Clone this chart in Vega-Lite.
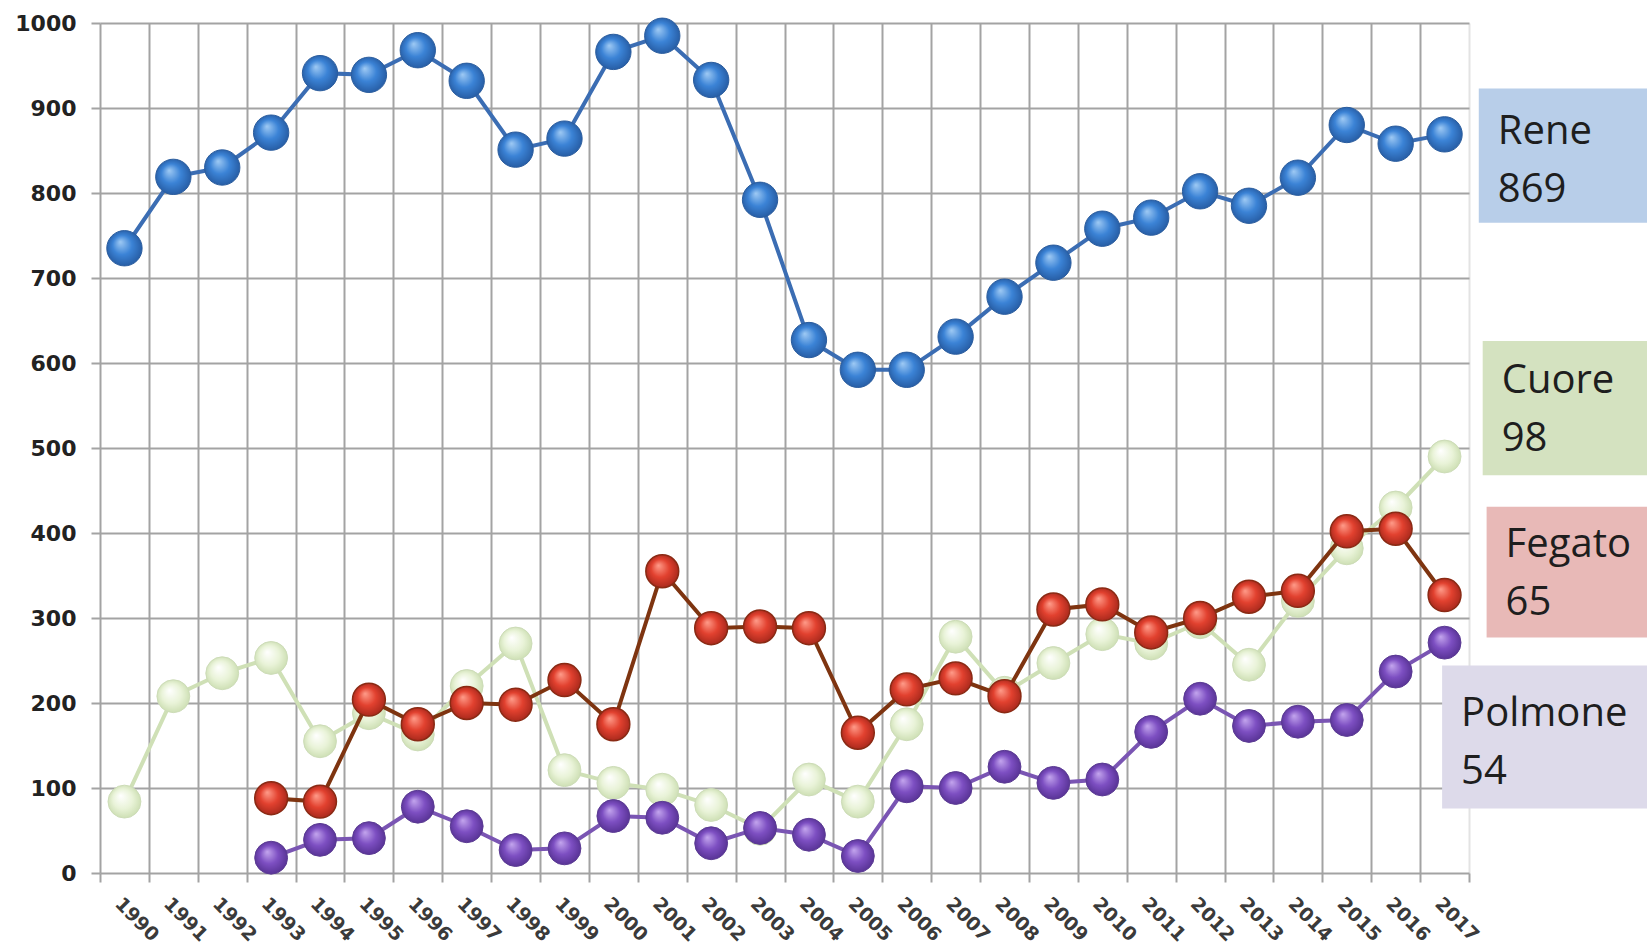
{
  "$schema": "https://vega.github.io/schema/vega-lite/v6.json",
  "width": 1369,
  "height": 850,
  "autosize": {"type": "none"},
  "padding": {"left": 100, "top": 23, "right": 178, "bottom": 71},
  "background": "white",
  "config": {"view": {"stroke": null}},
  "datasets": {
    "series": [
      {"year": 1990, "organ": "Rene", "n": 735}, {"year": 1991, "organ": "Rene", "n": 819}, {"year": 1992, "organ": "Rene", "n": 830}, {"year": 1993, "organ": "Rene", "n": 871}, {"year": 1994, "organ": "Rene", "n": 941}, {"year": 1995, "organ": "Rene", "n": 939}, {"year": 1996, "organ": "Rene", "n": 968}, {"year": 1997, "organ": "Rene", "n": 932}, {"year": 1998, "organ": "Rene", "n": 851}, {"year": 1999, "organ": "Rene", "n": 864}, {"year": 2000, "organ": "Rene", "n": 966}, {"year": 2001, "organ": "Rene", "n": 985}, {"year": 2002, "organ": "Rene", "n": 933}, {"year": 2003, "organ": "Rene", "n": 792}, {"year": 2004, "organ": "Rene", "n": 627}, {"year": 2005, "organ": "Rene", "n": 592}, {"year": 2006, "organ": "Rene", "n": 592}, {"year": 2007, "organ": "Rene", "n": 631}, {"year": 2008, "organ": "Rene", "n": 678}, {"year": 2009, "organ": "Rene", "n": 718}, {"year": 2010, "organ": "Rene", "n": 758}, {"year": 2011, "organ": "Rene", "n": 771}, {"year": 2012, "organ": "Rene", "n": 802}, {"year": 2013, "organ": "Rene", "n": 785}, {"year": 2014, "organ": "Rene", "n": 818}, {"year": 2015, "organ": "Rene", "n": 880}, {"year": 2016, "organ": "Rene", "n": 858}, {"year": 2017, "organ": "Rene", "n": 869},
      {"year": 1990, "organ": "Cuore", "n": 84}, {"year": 1991, "organ": "Cuore", "n": 208}, {"year": 1992, "organ": "Cuore", "n": 235}, {"year": 1993, "organ": "Cuore", "n": 253}, {"year": 1994, "organ": "Cuore", "n": 155}, {"year": 1995, "organ": "Cuore", "n": 188}, {"year": 1996, "organ": "Cuore", "n": 163}, {"year": 1997, "organ": "Cuore", "n": 220}, {"year": 1998, "organ": "Cuore", "n": 270}, {"year": 1999, "organ": "Cuore", "n": 121}, {"year": 2000, "organ": "Cuore", "n": 106}, {"year": 2001, "organ": "Cuore", "n": 98}, {"year": 2002, "organ": "Cuore", "n": 80}, {"year": 2003, "organ": "Cuore", "n": 52}, {"year": 2004, "organ": "Cuore", "n": 110}, {"year": 2005, "organ": "Cuore", "n": 84}, {"year": 2006, "organ": "Cuore", "n": 175}, {"year": 2007, "organ": "Cuore", "n": 278}, {"year": 2008, "organ": "Cuore", "n": 212}, {"year": 2009, "organ": "Cuore", "n": 247}, {"year": 2010, "organ": "Cuore", "n": 281}, {"year": 2011, "organ": "Cuore", "n": 270}, {"year": 2012, "organ": "Cuore", "n": 295}, {"year": 2013, "organ": "Cuore", "n": 245}, {"year": 2014, "organ": "Cuore", "n": 320}, {"year": 2015, "organ": "Cuore", "n": 382}, {"year": 2016, "organ": "Cuore", "n": 430}, {"year": 2017, "organ": "Cuore", "n": 490},
      {"year": 1993, "organ": "Fegato", "n": 88}, {"year": 1994, "organ": "Fegato", "n": 84}, {"year": 1995, "organ": "Fegato", "n": 204}, {"year": 1996, "organ": "Fegato", "n": 175}, {"year": 1997, "organ": "Fegato", "n": 200}, {"year": 1998, "organ": "Fegato", "n": 198}, {"year": 1999, "organ": "Fegato", "n": 227}, {"year": 2000, "organ": "Fegato", "n": 175}, {"year": 2001, "organ": "Fegato", "n": 355}, {"year": 2002, "organ": "Fegato", "n": 288}, {"year": 2003, "organ": "Fegato", "n": 290}, {"year": 2004, "organ": "Fegato", "n": 288}, {"year": 2005, "organ": "Fegato", "n": 165}, {"year": 2006, "organ": "Fegato", "n": 216}, {"year": 2007, "organ": "Fegato", "n": 229}, {"year": 2008, "organ": "Fegato", "n": 208}, {"year": 2009, "organ": "Fegato", "n": 310}, {"year": 2010, "organ": "Fegato", "n": 316}, {"year": 2011, "organ": "Fegato", "n": 283}, {"year": 2012, "organ": "Fegato", "n": 300}, {"year": 2013, "organ": "Fegato", "n": 325}, {"year": 2014, "organ": "Fegato", "n": 332}, {"year": 2015, "organ": "Fegato", "n": 402}, {"year": 2016, "organ": "Fegato", "n": 405}, {"year": 2017, "organ": "Fegato", "n": 327},
      {"year": 1993, "organ": "Polmone", "n": 18}, {"year": 1994, "organ": "Polmone", "n": 39}, {"year": 1995, "organ": "Polmone", "n": 41}, {"year": 1996, "organ": "Polmone", "n": 78}, {"year": 1997, "organ": "Polmone", "n": 55}, {"year": 1998, "organ": "Polmone", "n": 27}, {"year": 1999, "organ": "Polmone", "n": 29}, {"year": 2000, "organ": "Polmone", "n": 67}, {"year": 2001, "organ": "Polmone", "n": 65}, {"year": 2002, "organ": "Polmone", "n": 35}, {"year": 2003, "organ": "Polmone", "n": 53}, {"year": 2004, "organ": "Polmone", "n": 45}, {"year": 2005, "organ": "Polmone", "n": 20}, {"year": 2006, "organ": "Polmone", "n": 102}, {"year": 2007, "organ": "Polmone", "n": 100}, {"year": 2008, "organ": "Polmone", "n": 125}, {"year": 2009, "organ": "Polmone", "n": 106}, {"year": 2010, "organ": "Polmone", "n": 110}, {"year": 2011, "organ": "Polmone", "n": 166}, {"year": 2012, "organ": "Polmone", "n": 205}, {"year": 2013, "organ": "Polmone", "n": 173}, {"year": 2014, "organ": "Polmone", "n": 178}, {"year": 2015, "organ": "Polmone", "n": 180}, {"year": 2016, "organ": "Polmone", "n": 237}, {"year": 2017, "organ": "Polmone", "n": 271}
    ],
    "boxes": [
      {"organ": "Rene", "label": "Rene\n869", "x0": 2017.7, "x1": 2023, "y0": 765, "y1": 923, "ym": 842},
      {"organ": "Cuore", "label": "Cuore\n98", "x0": 2017.78, "x1": 2023, "y0": 468, "y1": 626, "ym": 549},
      {"organ": "Fegato", "label": "Fegato\n65", "x0": 2017.86, "x1": 2023, "y0": 277, "y1": 431, "ym": 356},
      {"organ": "Polmone", "label": "Polmone\n54", "x0": 2016.95, "x1": 2023, "y0": 76, "y1": 244, "ym": 158}
    ]
  },
  "layer": [
    {
      "data": {"name": "series"},
      "transform": [{"filter": "datum.organ === 'Cuore'"}],
      "mark": {"type": "line", "color": "#cfe0b6", "strokeWidth": 4},
      "encoding": {
        "x": {
          "field": "year", "type": "quantitative",
          "scale": {"domain": [1989.5, 2017.5], "nice": false, "zero": false},
          "axis": {
            "title": null,
            "values": [1989.5, 1990.5, 1991.5, 1992.5, 1993.5, 1994.5, 1995.5, 1996.5, 1997.5, 1998.5, 1999.5, 2000.5, 2001.5, 2002.5, 2003.5, 2004.5, 2005.5, 2006.5, 2007.5, 2008.5, 2009.5, 2010.5, 2011.5, 2012.5, 2013.5, 2014.5, 2015.5, 2016.5, 2017.5],
            "grid": true, "gridColor": "#a3a3a3", "gridWidth": 2,
            "gridOpacity": {"condition": {"test": "datum.value > 2017", "value": 0.3}, "value": 1},
            "domain": false,
            "ticks": true, "tickSize": 9, "tickColor": "#a3a3a3", "tickWidth": 2,
            "labelExpr": "datum.value > 2017 ? '' : format(datum.value + 0.5, 'd')",
            "labelAngle": 45, "labelAlign": "left", "labelBaseline": "top",
            "labelOffset": 24, "labelPadding": 12,
            "labelFont": "DejaVu Sans", "labelFontWeight": "bold", "labelFontSize": 19, "labelColor": "#3a3a3a",
            "labelOverlap": false, "labelBound": false, "labelFlush": false
          }
        },
        "y": {
          "field": "n", "type": "quantitative",
          "scale": {"domain": [0, 1000], "nice": false},
          "axis": {
            "title": null,
            "values": [0, 100, 200, 300, 400, 500, 600, 700, 800, 900, 1000],
            "format": "d",
            "grid": true, "gridColor": "#a3a3a3", "gridWidth": 2,
            "domain": false,
            "ticks": true, "tickSize": 9, "tickColor": "#a3a3a3", "tickWidth": 2,
            "labelPadding": 15,
            "labelFont": "DejaVu Sans", "labelFontWeight": "bold", "labelFontSize": 22, "labelColor": "#222222"
          }
        }
      }
    },
    {
      "data": {"name": "series"},
      "transform": [{"filter": "datum.organ === 'Cuore'"}],
      "mark": {"type": "point", "filled": true, "size": 1080, "opacity": 1, "stroke": "#cddcb8", "strokeWidth": 1,
        "fill": {"gradient": "radial", "x1": 0.38, "y1": 0.32, "r1": 0, "x2": 0.5, "y2": 0.5, "r2": 0.55,
          "stops": [{"offset": 0, "color": "#ffffff"}, {"offset": 0.55, "color": "#e9f3d8"}, {"offset": 1, "color": "#c9dcae"}]}},
      "encoding": {"x": {"field": "year", "type": "quantitative"}, "y": {"field": "n", "type": "quantitative"}}
    },
    {
      "data": {"name": "series"},
      "transform": [{"filter": "datum.organ === 'Fegato'"}],
      "mark": {"type": "line", "color": "#7e3410", "strokeWidth": 4},
      "encoding": {"x": {"field": "year", "type": "quantitative"}, "y": {"field": "n", "type": "quantitative"}}
    },
    {
      "data": {"name": "series"},
      "transform": [{"filter": "datum.organ === 'Fegato'"}],
      "mark": {"type": "point", "filled": true, "size": 1080, "opacity": 1, "stroke": "#8a2a14", "strokeWidth": 1.5,
        "fill": {"gradient": "radial", "x1": 0.38, "y1": 0.32, "r1": 0, "x2": 0.5, "y2": 0.5, "r2": 0.55,
          "stops": [{"offset": 0, "color": "#ff9c8a"}, {"offset": 0.5, "color": "#e2412f"}, {"offset": 1, "color": "#a2261a"}]}},
      "encoding": {"x": {"field": "year", "type": "quantitative"}, "y": {"field": "n", "type": "quantitative"}}
    },
    {
      "data": {"name": "series"},
      "transform": [{"filter": "datum.organ === 'Polmone'"}],
      "mark": {"type": "line", "color": "#7a55b3", "strokeWidth": 4},
      "encoding": {"x": {"field": "year", "type": "quantitative"}, "y": {"field": "n", "type": "quantitative"}}
    },
    {
      "data": {"name": "series"},
      "transform": [{"filter": "datum.organ === 'Polmone'"}],
      "mark": {"type": "point", "filled": true, "size": 1080, "opacity": 1, "stroke": "#5b3b93", "strokeWidth": 1,
        "fill": {"gradient": "radial", "x1": 0.38, "y1": 0.32, "r1": 0, "x2": 0.5, "y2": 0.5, "r2": 0.55,
          "stops": [{"offset": 0, "color": "#c4a6ee"}, {"offset": 0.5, "color": "#7d4fc2"}, {"offset": 1, "color": "#532f8f"}]}},
      "encoding": {"x": {"field": "year", "type": "quantitative"}, "y": {"field": "n", "type": "quantitative"}}
    },
    {
      "data": {"name": "series"},
      "transform": [{"filter": "datum.organ === 'Rene'"}],
      "mark": {"type": "line", "color": "#3b6db3", "strokeWidth": 4},
      "encoding": {"x": {"field": "year", "type": "quantitative"}, "y": {"field": "n", "type": "quantitative"}}
    },
    {
      "data": {"name": "series"},
      "transform": [{"filter": "datum.organ === 'Rene'"}],
      "mark": {"type": "point", "filled": true, "size": 1250, "opacity": 1, "stroke": "#2b5d9e", "strokeWidth": 1,
        "fill": {"gradient": "radial", "x1": 0.38, "y1": 0.32, "r1": 0, "x2": 0.5, "y2": 0.5, "r2": 0.55,
          "stops": [{"offset": 0, "color": "#9fcaf4"}, {"offset": 0.5, "color": "#3b83d6"}, {"offset": 1, "color": "#24589e"}]}},
      "encoding": {"x": {"field": "year", "type": "quantitative"}, "y": {"field": "n", "type": "quantitative"}}
    },
    {
      "data": {"name": "boxes"},
      "mark": {"type": "rect"},
      "encoding": {
        "x": {"field": "x0", "type": "quantitative"},
        "x2": {"field": "x1"},
        "y": {"field": "y0", "type": "quantitative"},
        "y2": {"field": "y1"},
        "fill": {"field": "organ", "type": "nominal", "legend": null,
          "scale": {"domain": ["Rene", "Cuore", "Fegato", "Polmone"], "range": ["#b8cee9", "#d4e2c0", "#e8b9b7", "#dddaea"]}}
      }
    },
    {
      "data": {"name": "boxes"},
      "mark": {"type": "text", "align": "left", "baseline": "middle", "dx": 19, "dy": -25, "font": "Open Sans", "fontSize": 40, "lineHeight": 58, "lineBreak": "\n", "color": "#1e1e1e"},
      "encoding": {
        "x": {"field": "x0", "type": "quantitative"},
        "y": {"field": "ym", "type": "quantitative"},
        "text": {"field": "label"}
      }
    }
  ]
}
